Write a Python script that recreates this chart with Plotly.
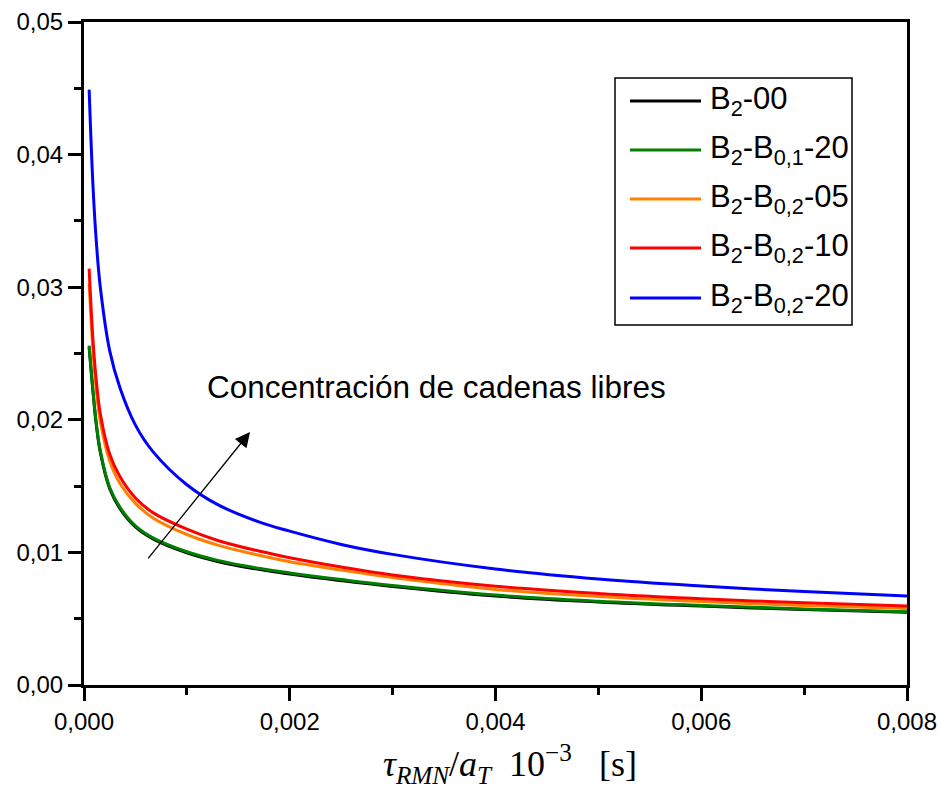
import plotly.graph_objects as go

# x values (tau_RMN/a_T 10^-3 s)
x_vals = [0.00005, 0.0000875, 0.00012, 0.00016, 0.00025, 0.00035, 0.0005, 0.00067,
          0.001, 0.0013, 0.0017, 0.002, 0.0025, 0.003, 0.004, 0.005, 0.006, 0.007, 0.008]

series_names = ["B<sub>2</sub>-00", "B<sub>2</sub>-B<sub>0,1</sub>-20", "B<sub>2</sub>-B<sub>0,2</sub>-05",
                "B<sub>2</sub>-B<sub>0,2</sub>-10", "B<sub>2</sub>-B<sub>0,2</sub>-20"]
series_colors = ["#000000", "#008000", "#FF8000", "#FF0000", "#0000FF"]

# values x 1e-3
y_b2_00 = [25.5, 22.1, 19.6, 17.5, 14.8, 13.3, 11.92, 11.02, 9.97, 9.32, 8.72, 8.37, 7.87, 7.43, 6.71, 6.26, 5.95, 5.69, 5.48]
y_b01_20 = [25.6, 22.2, 19.7, 17.6, 14.9, 13.4, 12.0, 11.1, 10.05, 9.4, 8.8, 8.45, 7.95, 7.5, 6.78, 6.32, 6.0, 5.74, 5.53]
y_b02_05 = [30.3, 25.2, 22.2, 19.8, 16.9, 15.2, 13.7, 12.6, 11.35, 10.55, 9.78, 9.3, 8.67, 8.1, 7.2, 6.67, 6.29, 5.99, 5.77]
y_b02_10 = [31.4, 26.0, 22.9, 20.4, 17.4, 15.7, 14.1, 13.0, 11.75, 10.9, 10.1, 9.6, 8.9, 8.3, 7.45, 6.9, 6.5, 6.2, 5.96]
y_b02_20 = [44.9, 37.6, 33.4, 29.9, 25.2, 22.4, 19.6, 17.6, 15.1, 13.6, 12.3, 11.6, 10.6, 9.85, 8.75, 8.0, 7.47, 7.05, 6.71]

all_series = [y_b2_00, y_b01_20, y_b02_05, y_b02_10, y_b02_20]

x_ticks = [0.0, 0.002, 0.004, 0.006, 0.008]
y_ticks = [0.0, 0.01, 0.02, 0.03, 0.04, 0.05]

FONT = "Liberation Sans, Arial, sans-serif"

fig = go.Figure()
for name, col, ys in zip(series_names, series_colors, all_series):
    fig.add_trace(go.Scatter(
        x=x_vals, y=[v * 1e-3 for v in ys], mode="lines", name=name,
        line=dict(color=col, width=3, shape="spline", smoothing=1.1),
        showlegend=False, hoverinfo="skip"))

fig.update_layout(
    width=940, height=796,
    margin=dict(l=84, r=33, t=22, b=111),
    paper_bgcolor="white", plot_bgcolor="white",
    separators=",.",
    font=dict(family=FONT, size=24, color="black"),
    showlegend=False,
)
fig.update_xaxes(
    range=[0, 0.008], tickvals=x_ticks, tickformat=".3f", automargin=False,
    showline=True, linecolor="black", linewidth=3, mirror=True,
    ticks="outside", ticklen=13, tickwidth=3, tickcolor="black",
    minor=dict(ticks="outside", ticklen=7, tickwidth=3, tickcolor="black", dtick=0.001),
    showgrid=False, zeroline=False, tickfont=dict(size=24, family=FONT),
)
fig.update_yaxes(
    range=[0, 0.05], tickvals=y_ticks, tickformat=".2f", automargin=False,
    showline=True, linecolor="black", linewidth=3, mirror=True,
    ticks="outside", ticklen=13, tickwidth=3, tickcolor="black",
    minor=dict(ticks="outside", ticklen=7, tickwidth=3, tickcolor="black", dtick=0.005),
    showgrid=False, zeroline=False, tickfont=dict(size=24, family=FONT),
)

# x-axis title
fig.add_annotation(
    xref="paper", yref="paper", x=0.518, y=-0.119, xanchor="center", yanchor="middle",
    text="<i>τ</i><sub><i>RMN</i></sub>/<i>a</i><sub><i>T</i></sub>&nbsp;&nbsp;10<sup>−3</sup>&nbsp;&nbsp;&nbsp;[s]",
    showarrow=False, font=dict(family="Liberation Serif, DejaVu Serif, serif", size=36))

# text annotation and arrow
fig.add_annotation(x=0.001176, y=0.02247, xanchor="left", yanchor="middle",
                   text="Concentración de cadenas libres", showarrow=False,
                   font=dict(size=31.5, family=FONT))
fig.add_annotation(x=0.001614, y=0.01908, ax=0.000612, ay=0.00943,
                   xref="x", yref="y", axref="x", ayref="y",
                   text="", showarrow=True, arrowhead=2, arrowsize=2.3,
                   arrowwidth=1.3, arrowcolor="black")

# manual legend
lx0, lx1 = (615 - 84) / 823, (852 - 84) / 823
ly_top, ly_bot = 1 - (78 - 22) / 663, 1 - (325 - 22) / 663
fig.add_shape(type="rect", xref="paper", yref="paper", x0=lx0, x1=lx1, y0=ly_bot, y1=ly_top,
              line=dict(color="black", width=1.5), fillcolor="white", layer="above")
row_y = [101, 150, 199, 248, 298]
for name, col, py in zip(series_names, series_colors, row_y):
    yy = 1 - (py - 22) / 663
    fig.add_shape(type="line", xref="paper", yref="paper",
                  x0=(630 - 84) / 823, x1=(701 - 84) / 823, y0=yy, y1=yy,
                  line=dict(color=col, width=3), layer="above")
    fig.add_annotation(xref="paper", yref="paper", x=(708 - 84) / 823, y=yy,
                       xanchor="left", yanchor="middle", text=name, showarrow=False,
                       font=dict(size=31, family=FONT))

fig.write_html("out.html")
